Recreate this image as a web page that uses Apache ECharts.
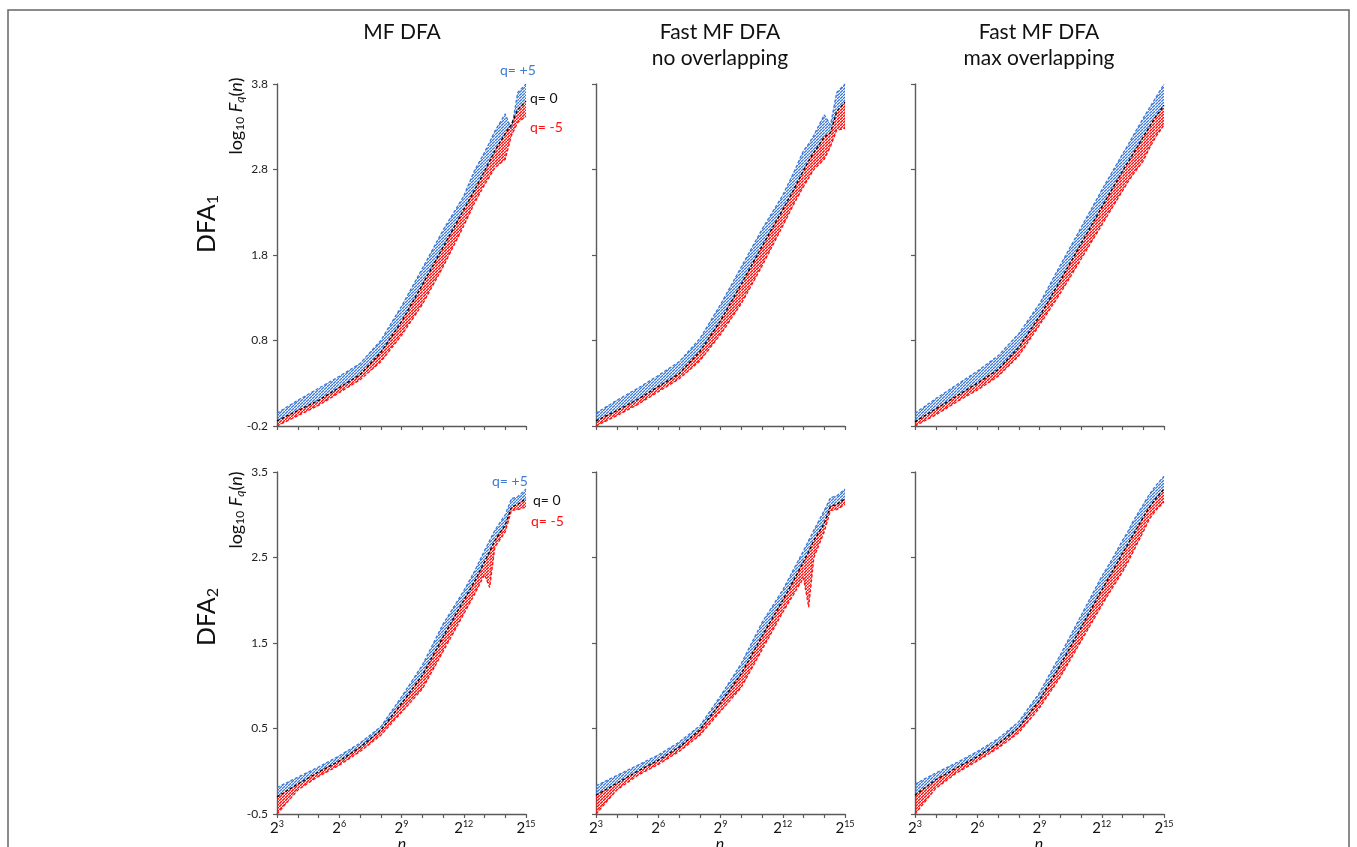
<!DOCTYPE html>
<html lang="en">
<head>
    <meta charset="UTF-8">
    <title>MF DFA</title>
    <script src="https://cdn.jsdelivr.net/npm/echarts@6/dist/echarts.min.js"></script>
</head>
<body style="margin: 0; background: #fff">
<div id="chart" style="width: 1357px; height: 847px"></div>
<script>
    // log2(n) sample points
    let logN = [3, 4, 5, 6, 7, 8, 9, 10, 11, 12, 12.5, 13, 13.25, 13.5, 14, 14.3, 14.6, 15];

    // DFA1, MF DFA
    let mf1_qp5 = [-0.05, 0.10, 0.24, 0.38, 0.53, 0.80, 1.20, 1.64, 2.09, 2.49, 2.78, 3.00, 3.12, 3.25, 3.45, 3.27, 3.70, 3.80];
    let mf1_q0 = [-0.14, -0.02, 0.10, 0.25, 0.40, 0.66, 1.02, 1.45, 1.89, 2.33, 2.55, 2.78, 2.90, 3.02, 3.22, 3.33, 3.50, 3.60];
    let mf1_qm5 = [-0.20, -0.08, 0.04, 0.19, 0.34, 0.55, 0.86, 1.22, 1.66, 2.14, 2.40, 2.62, 2.72, 2.82, 2.92, 3.20, 3.35, 3.42];
    // DFA1, fast, no overlapping
    let no1_qp5 = [-0.05, 0.10, 0.24, 0.39, 0.55, 0.82, 1.22, 1.66, 2.10, 2.50, 2.75, 3.02, 3.10, 3.20, 3.44, 3.32, 3.70, 3.80];
    let no1_q0 = [-0.14, -0.02, 0.11, 0.26, 0.41, 0.67, 1.03, 1.46, 1.90, 2.33, 2.55, 2.79, 2.90, 3.00, 3.18, 3.23, 3.48, 3.59];
    let no1_qm5 = [-0.20, -0.08, 0.05, 0.20, 0.35, 0.56, 0.87, 1.23, 1.67, 2.14, 2.38, 2.60, 2.70, 2.80, 2.92, 3.07, 3.26, 3.28];
    // DFA1, fast, max overlapping
    let max1_qp5 = [-0.05, 0.12, 0.28, 0.44, 0.62, 0.88, 1.23, 1.68, 2.12, 2.56, 2.77, 2.98, 3.08, 3.19, 3.40, 3.52, 3.64, 3.80];
    let max1_q0 = [-0.15, 0.00, 0.15, 0.30, 0.46, 0.72, 1.08, 1.50, 1.93, 2.36, 2.57, 2.78, 2.88, 2.98, 3.18, 3.30, 3.42, 3.55];
    let max1_qm5 = [-0.20, -0.07, 0.08, 0.22, 0.38, 0.62, 0.98, 1.35, 1.75, 2.15, 2.35, 2.55, 2.65, 2.74, 2.90, 3.05, 3.18, 3.32];
    // DFA2, MF DFA
    let mf2_qp5 = [-0.19, -0.07, 0.05, 0.18, 0.33, 0.52, 0.87, 1.24, 1.72, 2.11, 2.33, 2.58, 2.70, 2.82, 3.00, 3.19, 3.21, 3.30];
    let mf2_q0 = [-0.30, -0.15, -0.01, 0.12, 0.28, 0.48, 0.79, 1.12, 1.57, 2.00, 2.21, 2.45, 2.57, 2.70, 2.88, 3.09, 3.12, 3.19];
    let mf2_qm5 = [-0.50, -0.22, -0.06, 0.07, 0.23, 0.42, 0.69, 0.96, 1.40, 1.84, 2.06, 2.30, 2.15, 2.62, 2.80, 3.05, 3.06, 3.09];
    // DFA2, fast, no overlapping
    let no2_qp5 = [-0.17, -0.05, 0.07, 0.19, 0.34, 0.53, 0.88, 1.26, 1.74, 2.12, 2.35, 2.58, 2.70, 2.82, 3.05, 3.20, 3.22, 3.30];
    let no2_q0 = [-0.28, -0.14, 0.00, 0.13, 0.28, 0.48, 0.80, 1.14, 1.58, 2.00, 2.22, 2.45, 2.57, 2.70, 2.90, 3.10, 3.12, 3.19];
    let no2_qm5 = [-0.50, -0.22, -0.05, 0.08, 0.23, 0.42, 0.70, 0.98, 1.42, 1.86, 2.06, 2.26, 1.92, 2.50, 2.80, 3.05, 3.06, 3.12];
    // DFA2, fast, max overlapping
    let max2_qp5 = [-0.15, -0.02, 0.10, 0.23, 0.38, 0.58, 0.92, 1.36, 1.82, 2.28, 2.48, 2.70, 2.80, 2.92, 3.12, 3.24, 3.34, 3.45];
    let max2_q0 = [-0.28, -0.10, 0.04, 0.17, 0.32, 0.51, 0.83, 1.24, 1.68, 2.12, 2.33, 2.55, 2.65, 2.76, 2.97, 3.09, 3.19, 3.30];
    let max2_qm5 = [-0.50, -0.20, -0.02, 0.12, 0.27, 0.45, 0.74, 1.10, 1.52, 1.94, 2.14, 2.33, 2.44, 2.56, 2.80, 2.95, 3.05, 3.15];

    let colTitles = ['MF DFA', 'Fast MF DFA\nno overlapping', 'Fast MF DFA\nmax overlapping'];
    let yTicksTop = [-0.2, 0.8, 1.8, 2.8, 3.8];
    let yTicksBottom = [-0.5, 0.5, 1.5, 2.5, 3.5];
    let xTicks = [3, 6, 9, 12, 15];

    let panels = [
        [mf1_qp5, mf1_q0, mf1_qm5], [no1_qp5, no1_q0, no1_qm5], [max1_qp5, max1_q0, max1_qm5],
        [mf2_qp5, mf2_q0, mf2_qm5], [no2_qp5, no2_q0, no2_qm5], [max2_qp5, max2_q0, max2_qm5]
    ];

    const BLUE = '#3f7bd3';
    const RED = '#ff1010';
    const AXIS = '#5a5a5a';
    const FONT = 'Lato';

    // hatch patterns for the q>0 / q<0 bands
    function hatch(color, size, width) {
        let c = document.createElement('canvas');
        c.width = size; c.height = size;
        let ctx = c.getContext('2d');
        ctx.strokeStyle = color;
        ctx.lineWidth = width;
        ctx.beginPath();
        ctx.moveTo(-1, size + 1); ctx.lineTo(size + 1, -1);
        ctx.stroke();
        return {image: c, repeat: 'repeat'};
    }
    let bluePat = hatch(BLUE, 3, 1.3);
    let redPat = hatch(RED, 3, 1.5);

    function bandRender(fill) {
        return function (params, api) {
            let a = api.coord([api.value(0), api.value(1)]);
            let b = api.coord([api.value(3), api.value(4)]);
            let c = api.coord([api.value(3), api.value(5)]);
            let d = api.coord([api.value(0), api.value(2)]);
            return {type: 'polygon', shape: {points: [a, b, c, d]}, style: {fill: fill}};
        };
    }

    function bandData(upper, lower) {
        let out = [];
        for (let i = 0; i < logN.length - 1; i++) {
            out.push([logN[i], upper[i], lower[i], logN[i + 1], upper[i + 1], lower[i + 1]]);
        }
        return out;
    }

    function pairs(vals) {
        return logN.map((x, i) => [x, vals[i]]);
    }

    let lefts = [277, 596, 915];
    let tops = [84, 472];
    let grids = [], xAxes = [], yAxes = [], series = [];

    for (let p = 0; p < 6; p++) {
        let row = Math.floor(p / 3), col = p % 3;
        let ticks = row === 0 ? yTicksTop : yTicksBottom;
        grids.push({left: lefts[col], top: tops[row], width: 249, height: 342, outerBoundsMode: 'none'});
        xAxes.push({
            type: 'value', gridIndex: p, min: 3, max: 15, interval: 1,
            axisLine: {onZero: false, lineStyle: {color: AXIS, width: 1.4}},
            axisTick: {length: 4, lineStyle: {color: AXIS, width: 1.2}},
            splitLine: {show: false},
            axisLabel: {
                show: row === 1,
                customValues: xTicks,
                formatter: v => '{b|2}{s|' + v + '}',
                margin: 6,
                rich: {
                    b: {fontSize: 15, color: '#111', fontFamily: FONT},
                    s: {fontSize: 9, color: '#111', fontFamily: FONT, verticalAlign: 'top', padding: [0, 0, 8, 0]}
                }
            }
        });
        yAxes.push({
            type: 'value', gridIndex: p, min: ticks[0], max: ticks[4],
            axisLine: {show: true, onZero: false, lineStyle: {color: AXIS, width: 1.4}},
            axisTick: {show: true, length: 4, customValues: ticks, lineStyle: {color: AXIS, width: 1.2}},
            splitLine: {show: false},
            axisLabel: {
                show: col === 0, customValues: ticks, margin: 9,
                formatter: v => v.toFixed(1),
                fontSize: 12, color: '#222', fontFamily: FONT
            }
        });

        let d = panels[p];
        series.push({
            type: 'custom', xAxisIndex: p, yAxisIndex: p, clip: true, silent: true,
            renderItem: bandRender(bluePat), data: bandData(d[0], d[1]),
            encode: {x: [0, 3], y: [1, 2, 4, 5]}
        });
        series.push({
            type: 'custom', xAxisIndex: p, yAxisIndex: p, clip: true, silent: true,
            renderItem: bandRender(redPat), data: bandData(d[1], d[2]),
            encode: {x: [0, 3], y: [1, 2, 4, 5]}
        });
        let styles = [[BLUE, d[0]], [RED, d[2]], ['#000', d[1]]];
        styles.forEach(s => {
            series.push({
                type: 'line', xAxisIndex: p, yAxisIndex: p, data: pairs(s[1]),
                showSymbol: false, clip: true, silent: true,
                lineStyle: {color: s[0], width: 1.3, type: [3, 2]}
            });
        });
    }

    let graphic = [
        {type: 'rect', shape: {x: 8, y: 10, width: 1341, height: 860}, style: {fill: null, stroke: '#666', lineWidth: 1.5}, silent: true}
    ];
    let centers = [402, 720, 1039];
    colTitles.forEach((t, i) => {
        graphic.push({
            type: 'text', x: centers[i], y: 19,
            style: {text: t, font: '21px ' + FONT, fill: '#111', align: 'center', verticalAlign: 'top', lineHeight: 26}
        });
        // x axis name under the bottom row
        graphic.push({
            type: 'text', x: centers[i], y: 836,
            style: {text: 'n', font: 'italic 16px ' + FONT, fill: '#111', align: 'center', verticalAlign: 'top'}
        });
    });
    [[224, '1'], [617, '2']].forEach(r => {
        graphic.push({
            type: 'text', x: 207, y: r[0], rotation: Math.PI / 2,
            style: {
                text: 'DFA{s|' + r[1] + '}', align: 'center', verticalAlign: 'middle',
                font: '25px ' + FONT, fill: '#111',
                rich: {s: {fontSize: 16, fontFamily: FONT, fill: '#111', padding: [12, 0, 0, 0]}}
            }
        });
    });
    [116, 510].forEach(y => {
        graphic.push({
            type: 'text', x: 236, y: y, rotation: Math.PI / 2,
            style: {
                text: 'log{s|10} {i|F}{si|q}({i|n})', align: 'center', verticalAlign: 'middle',
                font: '18px ' + FONT, fill: '#111',
                rich: {
                    s: {fontSize: 12, fontFamily: FONT, fill: '#111', padding: [8, 0, 0, 0]},
                    i: {fontSize: 18, fontStyle: 'italic', fontFamily: FONT, fill: '#111'},
                    si: {fontSize: 12, fontStyle: 'italic', fontFamily: FONT, fill: '#111', padding: [8, 0, 0, 0]}
                }
            }
        });
    });
    let qLabels = [
        [500, 70, 'q= +5', BLUE], [530, 98, 'q= 0', '#111'], [530, 127, 'q= -5', RED],
        [492, 481, 'q= +5', BLUE], [533, 500, 'q= 0', '#111'], [531, 521, 'q= -5', RED]
    ];
    qLabels.forEach(q => {
        graphic.push({
            type: 'text', x: q[0], y: q[1],
            style: {text: q[2], font: '14px ' + FONT, fill: q[3], verticalAlign: 'middle'}
        });
    });

    let chart = echarts.init(document.getElementById('chart'));
    chart.setOption({
        animation: false,
        grid: grids,
        xAxis: xAxes,
        yAxis: yAxes,
        series: series,
        graphic: graphic
    });
</script>
</body>
</html>
